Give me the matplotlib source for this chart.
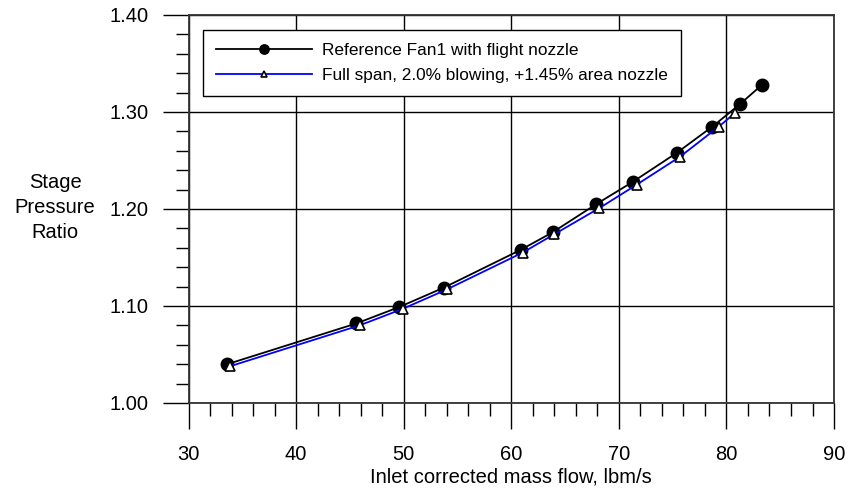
import matplotlib.pyplot as plt
from matplotlib.ticker import MultipleLocator

plt.rcParams['font.family'] = ['Liberation Sans', 'DejaVu Sans']

# Reference fan with flight nozzle
ref_flow = [33.6, 45.6, 49.6, 53.75, 60.9, 63.85, 67.9, 71.3, 75.4, 78.7, 81.25, 83.3]
ref_pr = [1.040, 1.082, 1.099, 1.119, 1.158, 1.176, 1.205, 1.228, 1.258, 1.285, 1.308, 1.328]

# Full span blowing with enlarged nozzle
blow_flow = [33.9, 45.9, 49.9, 54.0, 61.05, 64.0, 68.2, 71.65, 75.7, 79.3, 80.8]
blow_pr = [1.038, 1.080, 1.097, 1.117, 1.155, 1.174, 1.201, 1.225, 1.254, 1.285, 1.299]

fig = plt.figure(figsize=(8.5, 4.93), dpi=100)
ax = fig.add_axes([0.2218, 0.1826, 0.7594, 0.787])

ax.plot(ref_flow, ref_pr, color='black', lw=1.3, marker='o', ms=9,
        mfc='black', mec='black', label='Reference Fan1 with flight nozzle', zorder=3)
ax.plot(blow_flow, blow_pr, color='#0000ff', lw=1.3, marker='^', ms=6.5,
        mfc='white', mec='black', mew=1.2,
        label='Full span, 2.0% blowing, +1.45% area nozzle', zorder=4)

ax.set_xlim(30, 90)
ax.set_ylim(1.0, 1.4)
ax.xaxis.set_major_locator(MultipleLocator(10))
ax.xaxis.set_minor_locator(MultipleLocator(2))
ax.yaxis.set_major_locator(MultipleLocator(0.1))
ax.yaxis.set_minor_locator(MultipleLocator(0.02))
ax.yaxis.set_major_formatter(plt.FormatStrFormatter('%.2f'))

ax.tick_params(which='major', direction='out', length=18.5, width=1, color='black',
               labelsize=14.5, pad=10)
ax.tick_params(axis='x', which='major', pad=12)
ax.tick_params(which='minor', direction='out', length=9.5, width=1, color='black')
ax.grid(which='major', color='black', lw=1)
for s in ax.spines.values():
    s.set_linewidth(1.3)
    s.set_color('#333333')

ax.set_xlabel('Inlet corrected mass flow, lbm/s', fontsize=14.5, labelpad=2)
fig.text(0.065, 0.58, 'Stage\nPressure\nRatio', fontsize=14.5, ha='center', va='center',
         linespacing=1.4)

leg = ax.legend(loc='upper left', bbox_to_anchor=(0.022, 0.962), fontsize=12.4,
                frameon=True, fancybox=False, edgecolor='black', framealpha=1,
                handlelength=5.6, handletextpad=0.6, borderpad=0.75, labelspacing=0.6,
                borderaxespad=0, markerscale=0.75)
leg.get_frame().set_linewidth(1)

fig.savefig('out.png', dpi=100)
